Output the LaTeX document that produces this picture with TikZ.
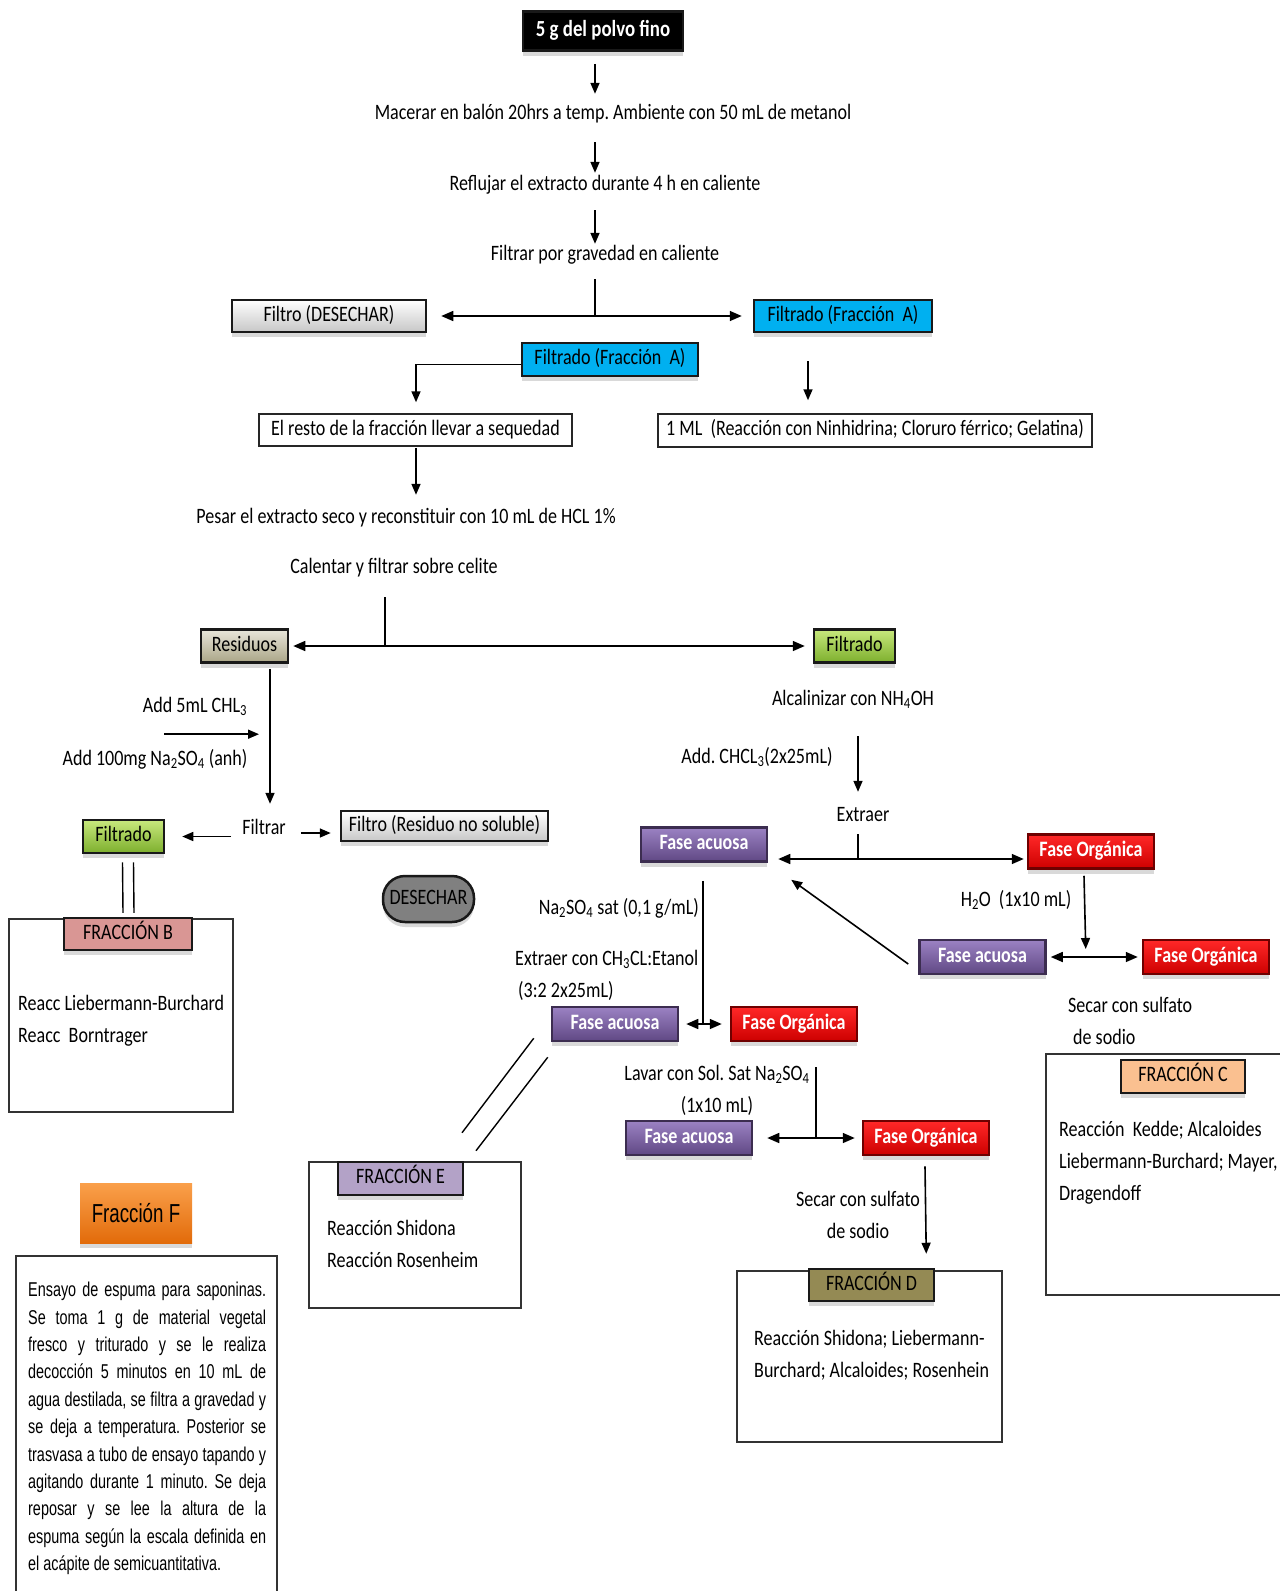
\documentclass[tikz,border=0pt]{standalone}
\usepackage{fontspec}
\setmainfont[FakeStretch=0.82]{Carlito}
\newfontfamily\arialn[FakeStretch=0.72]{Liberation Sans}
\usetikzlibrary{arrows.meta,shadows}
\frenchspacing
\tikzset{
	every node/.style={inner sep=0pt, font=\fontsize{22}{32}\selectfont},
	lbl/.style={text height=15pt, text depth=5pt},
	lines/.style={align=left},
	shade/.style={drop shadow={shadow xshift=0pt, shadow yshift=-5pt, opacity=0.3}},
	box/.style={draw=black!90, line width=2.5pt, lbl, shade},
	plainbox/.style={draw=black!85, line width=1.5pt, fill=white, lbl},
	frame/.style={draw=black!80, line width=2pt},
	graybox/.style={top color=white, bottom color=black!22},
	greenbox/.style={top color=greenT, bottom color=greenB, minimum width=81pt, minimum height=33pt},
	acuosa/.style={top color=purpleT, bottom color=purpleB, draw=purpleD, text=white, font={\fontsize{22}{32}\selectfont\bfseries}, minimum width=126pt, minimum height=34pt},
	organica/.style={top color=redT, bottom color=redB, draw=redD, text=white, font={\fontsize{22}{32}\selectfont\bfseries}, minimum width=126pt, minimum height=34pt},
	fraclbl/.style={box, minimum width=125pt, minimum height=33pt},
	arr/.style={-{Triangle[length=11pt,width=9pt]}, line width=1.6pt},
	dbl/.style={{Triangle[length=12pt,width=10pt]}-{Triangle[length=12pt,width=10pt]}, line width=1.6pt},
	ln/.style={line width=1.4pt}
}
\begin{document}
\begin{tikzpicture}[x=1pt, y=-1pt]
	\definecolor{cyanA}{RGB}{0,176,240}
	\definecolor{greenT}{RGB}{200,232,125}
	\definecolor{greenB}{RGB}{125,175,45}
	\definecolor{purpleT}{RGB}{155,130,195}
	\definecolor{purpleB}{RGB}{96,72,132}
	\definecolor{purpleD}{RGB}{60,45,80}
	\definecolor{redT}{RGB}{255,40,40}
	\definecolor{redB}{RGB}{205,0,0}
	\definecolor{redD}{RGB}{110,0,0}
	\definecolor{beigeT}{RGB}{232,230,218}
	\definecolor{beigeB}{RGB}{170,165,135}
	\definecolor{pinkB}{RGB}{217,150,148}
	\definecolor{peachC}{RGB}{250,192,144}
	\definecolor{oliveD}{RGB}{148,138,84}
	\definecolor{lilacE}{RGB}{179,162,199}
	\definecolor{orangeT}{RGB}{250,160,75}
	\definecolor{orangeB}{RGB}{226,107,10}
	\useasboundingbox (0,0) rectangle (1280,1591);

	\node (polvo) at (603,31) [box, fill=black, text=white, font={\fontsize{23}{26}\selectfont\bfseries}, minimum width=160pt, minimum height=39pt] {5 g del polvo fino};
	\node (macerar) at (613,114) [lbl] {Macerar en balón 20hrs a temp. Ambiente con 50 mL de metanol};
	\node (reflujar) at (605,185) [lbl] {Reflujar el extracto durante 4 h en caliente};
	\node (filtrarg) at (605,255) [lbl] {Filtrar por gravedad en caliente};
	\node (filtro) at (329,316) [box, graybox, minimum width=194pt, minimum height=32pt] {Filtro (DESECHAR)};
	\node (fracA) at (843,316) [box, fill=cyanA, minimum width=178pt, minimum height=32pt] {Filtrado (Fracción\ \ A)};
	\node (fracAb) at (610,359.5) [box, fill=cyanA, minimum width=176pt, minimum height=33pt] {Filtrado (Fracción\ \ A)};
	\node (resto) at (415.5,430) [plainbox, minimum width=313pt, minimum height=32pt] {El resto de la fracción llevar a sequedad};
	\node (unoml) at (875,430.5) [plainbox, minimum width=434pt, minimum height=33pt] {1 ML\ \ (Reacción con Ninhidrina; Cloruro férrico; Gelatina)};
	\node (pesar) at (406,518) [lbl] {Pesar el extracto seco y reconstituir con 10 mL de HCL 1\%};
	\node (calentar) at (394,568) [lbl] {Calentar y filtrar sobre celite};

	\node (residuos) at (244.5,646) [box, top color=beigeT, bottom color=beigeB, minimum width=87pt, minimum height=33pt] {Residuos};
	\node (filtradoR) at (854.5,646) [box, greenbox] {Filtrado};
	\node (alcal) at (853,700) [lbl] {Alcalinizar con NH\textsubscript{4}OH};
	\node (addchcl) at (757,758) [lbl] {Add. CHCL\textsubscript{3}(2x25mL)};
	\node (extraer) at (863,816) [lbl] {Extraer};
	\coordinate (ext) at (858,859);
	\node (acuosa1) at (704,844.5) [box, acuosa] {Fase acuosa};
	\node (organica1) at (1091,851.5) [box, organica] {Fase Orgánica};
	\node (h2o) at (1016,901) [lbl] {H\textsubscript{2}O\ \ (1x10 mL)};
	\node (acuosa2) at (982.5,957) [box, acuosa] {Fase acuosa};
	\node (organica2) at (1206,957) [box, organica] {Fase Orgánica};
	\node (secarC) at (1068,1021) [anchor=west, lines] {Secar con sulfato\\\hspace{5pt}de sodio};
	\node (fracCbox) at (1173,1174.5) [frame, minimum width=254pt, minimum height=241pt] {};
	\node (fracC) at (1183,1076.5) [fraclbl, fill=peachC, minimum width=124pt] {FRACCIÓN C};
	\node (fracCtxt) at (1059,1121) [anchor=north west, lines] {Reacción\ \ Kedde; Alcaloides\\Liebermann-Burchard; Mayer,\\Dragendoff};

	\node (addchl) at (195,707) [lbl] {Add 5mL CHL\textsubscript{3}};
	\node (addna) at (155,760) [lbl] {Add 100mg Na\textsubscript{2}SO\textsubscript{4} (anh)};
	\node (filtrar) at (264,829) [lbl] {Filtrar};
	\node (filtroRes) at (444.5,826) [box, graybox, minimum width=207pt, minimum height=30pt] {Filtro (Residuo no soluble)};
	\node (filtradoL) at (123.5,836.5) [box, greenbox] {Filtrado};
	\node (desechar) at (428.5,899) [box, fill=black!50, rounded corners=22pt, minimum width=91pt, minimum height=46pt] {DESECHAR};
	\node (fracBbox) at (121,1015.5) [frame, minimum width=224pt, minimum height=193pt] {};
	\node (fracB) at (128,934) [fraclbl, fill=pinkB, minimum width=128pt, minimum height=32pt] {FRACCIÓN B};
	\node (fracBtxt) at (18,995) [anchor=north west, lines] {Reacc Liebermann-Burchard\\Reacc\ \ Borntrager};

	\node (nasat) at (699,909) [anchor=east, lbl] {Na\textsubscript{2}SO\textsubscript{4} sat (0,1 g/mL)};
	\node (extraerCH) at (515,975) [anchor=west, lines] {Extraer con CH\textsubscript{3}CL:Etanol\\\hspace{3pt}(3:2 2x25mL)};
	\node (acuosa3) at (615,1024) [box, acuosa] {Fase acuosa};
	\node (organica3) at (794,1024) [box, organica] {Fase Orgánica};
	\node (fracEbox) at (415,1235) [frame, minimum width=212pt, minimum height=146pt] {};
	\node (fracE) at (400.5,1178.5) [fraclbl, fill=lilacE] {FRACCIÓN E};
	\node (fracEtxt) at (327,1220) [anchor=north west, lines] {Reacción Shidona\\Reacción Rosenheim};
	\node (lavar) at (717,1090) [align=center] {Lavar con Sol. Sat Na\textsubscript{2}SO\textsubscript{4}\\(1x10 mL)};
	\node (acuosa4) at (689,1138) [box, acuosa] {Fase acuosa};
	\node (organica4) at (926,1138) [box, organica] {Fase Orgánica};
	\node (secarD) at (858,1215) [align=center] {Secar con sulfato\\de sodio};
	\node (fracDbox) at (869.5,1356.5) [frame, minimum width=265pt, minimum height=171pt] {};
	\node (fracD) at (871.5,1285) [fraclbl, fill=oliveD, minimum height=32pt] {FRACCIÓN D};
	\node (fracDtxt) at (754,1330) [anchor=north west, lines] {Reacción Shidona; Liebermann-\\Burchard; Alcaloides; Rosenhein};

	\node (fracF) at (136,1213) [shade, top color=orangeT, bottom color=orangeB, font={\arialn\fontsize{26}{30}\selectfont}, minimum width=112pt, minimum height=60pt] {Fracción F};
	\node (fracFbox) at (146.5,1438) [frame, minimum width=261pt, minimum height=364pt] {};
	\node (ensayo) at (28,1282) [anchor=north west, text width=238pt, align=justify, font={\arialn\fontsize{20}{27.4}\selectfont}] {Ensayo de espuma para saponinas.\linebreak Se toma 1 g de material vegetal\linebreak fresco y triturado y se le realiza\linebreak decocción 5 minutos en 10 mL de\linebreak agua destilada, se filtra a gravedad y\linebreak se deja a temperatura. Posterior se\linebreak trasvasa a tubo de ensayo tapando y\linebreak agitando durante 1 minuto. Se deja\linebreak reposar y se lee la altura de la\linebreak espuma según la escala definida en\linebreak el acápite de semicuantitativa.};

	\draw[arr] ([shift={(-8,12)}]polvo.south) -- ([shift={(-18,-10)}]macerar.north);
	\draw[arr] ([shift={(-18,18)}]macerar.south) -- ([shift={(-10,-2)}]reflujar.north);
	\draw[arr] ([shift={(-10,15)}]reflujar.south) -- ([shift={(-10,-1)}]filtrarg.north);
	\draw[ln] ([shift={(-10,14)}]filtrarg.south) -- ([xshift=-10pt]filtrarg.south |- filtro.east);
	\draw[dbl, shorten <=14pt, shorten >=11pt] (filtro.east) -- (fracA.west);
	\draw[arr] ([shift={(0,5)}]fracAb.west) -| ([shift={(0.5,-11)}]resto.north);
	\draw[arr] ([shift={(-35,28)}]fracA.south) -- ([shift={(-67,-13)}]unoml.north);
	\draw[arr] ([shift={(0.5,1)}]resto.south) -- ([shift={(10,-13)}]pesar.north);
	\draw[ln] ([shift={(-9,19)}]calentar.south) -- ([xshift=-9pt]calentar.south |- residuos.east);
	\draw[dbl, shorten <=4pt, shorten >=8pt] (residuos.east) -- (filtradoR.west);

	\draw[arr] ([shift={(25.5,5)}]residuos.south) -- ([shift={(6,-15)}]filtrar.north);
	\draw[arr] ([shift={(-31,17)}]addchl.south) -- ([shift={(64,17)}]addchl.south);
	\draw[arr, shorten <=11pt, shorten >=17pt] (filtrar.west |- filtradoL.east) -- (filtradoL.east);
	\draw[arr, shorten <=15pt, shorten >=9pt] ([shift={(0,4)}]filtrar.east) -- ([shift={(0,7)}]filtroRes.west);
	\draw[ln] ([shift={(-1,8)}]filtradoL.south) -- ([shift={(-5,-4)}]fracB.north);
	\draw[ln] ([shift={(10,8)}]filtradoL.south) -- ([shift={(6,-4)}]fracB.north);

	\draw[arr] ([shift={(5,26)}]alcal.south) -- ([shift={(-5,-14)}]extraer.north);
	\draw[ln] ([shift={(-5,8)}]extraer.south) -- (ext);
	\draw[dbl] ([shift={(10,14.5)}]acuosa1.east) -- ([shift={(-3,7.5)}]organica1.west);
	\draw[arr] ([shift={(-7,6)}]organica1.south) -- ([shift={(39,-8)}]acuosa2.east);
	\draw[dbl, shorten <=4pt, shorten >=4pt] (acuosa2.east) -- (organica2.west);
	\draw[arr] ([shift={(-10,7)}]acuosa2.west) -- ([shift={(23,17)}]acuosa1.south east);

	\draw[ln] ([shift={(-1,18)}]acuosa1.south) -- ([xshift=-1pt]acuosa1.south |- acuosa3.east);
	\draw[dbl, shorten <=7pt, shorten >=8pt] (acuosa3.east) -- (organica3.west);
	\draw[ln] ([shift={(-17,-4)}]acuosa3.south west) -- ([shift={(61.5,-28)}]fracE.north);
	\draw[ln] ([shift={(-3,15)}]acuosa3.south west) -- ([shift={(75.5,-10)}]fracE.north);
	\draw[ln] ([shift={(22,25)}]organica3.south) -- ([xshift=22pt]organica3.south |- organica4.west);
	\draw[dbl, shorten <=14pt, shorten >=7pt] (acuosa4.east) -- (organica4.west);
	\draw[arr] ([shift={(-1,10)}]organica4.south) -- ([shift={(-9,-14)}]fracD.north east);
\end{tikzpicture}
\end{document}
